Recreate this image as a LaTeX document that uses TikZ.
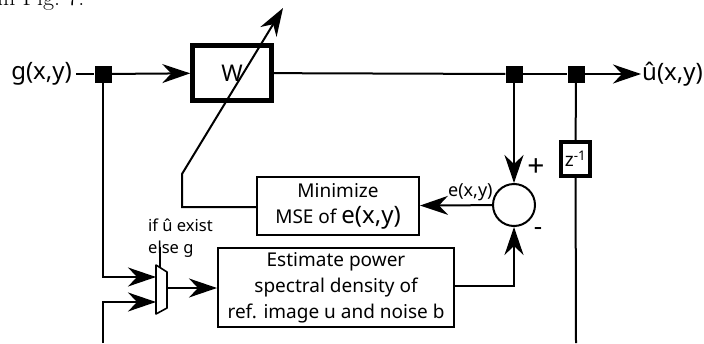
\documentclass[tikz,border=0pt]{standalone}
\usepackage{fontspec}
\setsansfont{Noto Sans}
\usetikzlibrary{positioning, arrows.meta, calc}

\begin{document}
\begin{tikzpicture}[
	x=1pt, y=-1pt,
	every node/.style={font=\sffamily},
	line/.style={draw, line width=2pt},
	arr/.style={line, -{Stealth[length=28pt, width=19pt, inset=9pt]}},
	block/.style={draw, line width=2pt, align=center, inner sep=0pt},
	heavy/.style={draw, line width=4.5pt, inner sep=0pt},
	junc/.style={fill, minimum size=17pt, inner sep=0pt},
	big/.style={font=\sffamily\fontsize{24}{27}\selectfont},
	mid/.style={font=\sffamily\fontsize{19}{26}\selectfont},
	small/.style={font=\sffamily\fontsize{16.5}{22}\selectfont},
	]
	\useasboundingbox (0,0) rectangle (704,343);
	
	% caption line of the page, cut off
	\node[anchor=base west, inner sep=0pt, font=\rmfamily\fontsize{24}{26}\selectfont] (cap) at (-3,5) {in Fig.~7.};
	
	% forward path
	\node[big, anchor=east, inner sep=4pt] (g) at (76,74) {g(x,y)};
	\node[junc] (j0) at (103,74) {};
	\node[heavy, minimum width=79pt, minimum height=55pt, font=\sffamily\fontsize{23}{26}\selectfont] (W) at (232,73) {W};
	\node[junc] (j1) at (514,74) {};
	\node[junc] (j2) at (576,74) {};
	\node[big, anchor=west, inner sep=1pt] (u) at (641,74) {û(x,y)};
	
	\draw[line] (g) -- (j0);
	\draw[arr] (j0) -- (W);
	\draw[line] (W) -- (j1);
	\draw[line] (j1) -- (j2);
	\draw[arr] (j2) -- (u);
	
	% error
	\node[circle, draw, line width=2pt, minimum size=42pt, inner sep=0pt] (sum) at (514,205) {};
	\node[font=\sffamily\fontsize{30}{30}\selectfont] (plus) at (536,168) {+};
	\node[font=\sffamily\fontsize{26}{26}\selectfont] (minus) at (538,232) {-};
	\draw[arr] (j1) -- (sum);
	
	% delay
	\node[heavy, line width=4pt, minimum width=29pt, minimum height=34pt, font=\sffamily\fontsize{19}{20}\selectfont] (z) at (575.5,159) {z\textsuperscript{-1}};
	\coordinate (zb) at (576,343);
	\draw[line] (j2) -- (z);
	\draw[line] (z) -- (zb);
	
	% blocks
	\node[block, mid, minimum width=162pt, minimum height=58pt] (mse) at (338,206) {Minimize\\MSE of {\fontsize{24}{26}\selectfont e(x,y)}};
	\node[block, mid, minimum width=236pt, minimum height=79pt] (psd) at (336,287.5) {Estimate power\\spectral density of\\ref. image u and noise b};
	
	\draw[arr] (sum) -- node[above, pos=0.3, inner sep=3pt, font=\sffamily\fontsize{18}{20}\selectfont] (e) {e(x,y)} (mse);
	\draw[arr] (psd.east |- 0,286) -| (sum);
	
	% adaptation of W
	\coordinate (k1) at (182,207);
	\coordinate (k2) at (182,174);
	\coordinate (tip) at (283,8);
	\draw[arr] (mse.west |- k1) -- (k1) -- (k2) -- (tip);
	
	% selector
	\coordinate (m1) at (156,265);
	\coordinate (m2) at (167,272);
	\coordinate (m3) at (167,308);
	\coordinate (m4) at (156,314);
	\draw[line, line width=1.6pt, line join=round] (m1) -- (m2) -- (m3) -- (m4) -- cycle;
	\coordinate (sel) at (160,247);
	\draw[line, line width=1.6pt] (sel) -- ($(m1)!0.36!(m2)$);
	\node[small, anchor=north west, align=left, inner sep=0pt] (cond) at (148,219) {if û exist\\else g};
	
	\coordinate (fb) at (103,343);
	\draw[arr] (j0) |- (m1 |- 0,277);
	\draw[arr] (fb) |- (m1 |- 0,302);
	\draw[arr] (m2 |- 0,288) -- (psd.west |- 0,288);
\end{tikzpicture}
\end{document}
